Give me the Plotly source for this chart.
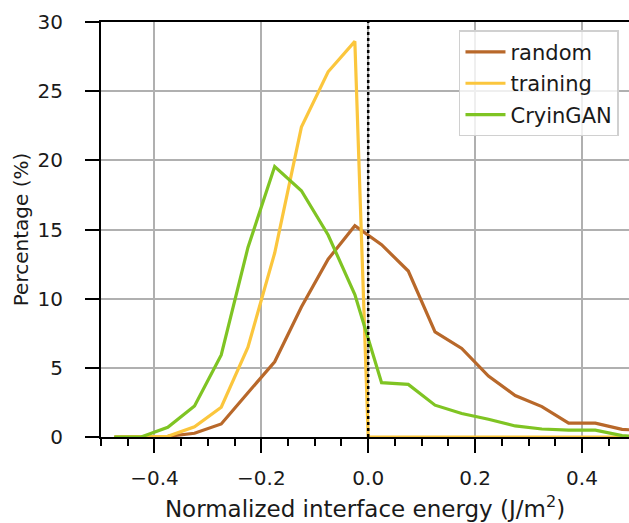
import plotly.graph_objects as go

# bin centres (J/m^2)
energy_bins = [-0.475, -0.425, -0.375, -0.325, -0.275, -0.225, -0.175, -0.125, -0.075, -0.025,
               0.025, 0.075, 0.125, 0.175, 0.225, 0.275, 0.325, 0.375, 0.425, 0.475, 0.525]

random_pct = [0.0, 0.0, 0.05, 0.27, 0.94, 3.2, 5.44, 9.4, 12.85, 15.28,
              13.9, 12.0, 7.6, 6.4, 4.4, 3.0, 2.2, 1.0, 1.0, 0.55, 0.45]

cryingan_pct = [0.0, 0.0, 0.7, 2.24, 5.93, 13.7, 19.55, 17.8, 14.6, 10.3,
                3.93, 3.8, 2.3, 1.7, 1.28, 0.8, 0.58, 0.5, 0.5, 0.1, 0.0]

training_bins = [-0.475, -0.425, -0.375, -0.325, -0.275, -0.225, -0.175, -0.125, -0.075, -0.025,
                 0.0, 0.025, 0.075, 0.125, 0.175, 0.225, 0.275, 0.325, 0.375, 0.425, 0.475, 0.525]
training_pct = [0.0, 0.0, 0.05, 0.74, 2.15, 6.5, 13.3, 22.4, 26.4, 28.6,
                0.0, 0.0, 0.0, 0.0, 0.0, 0.0, 0.0, 0.0, 0.0, 0.0, 0.0, 0.0]

zero_line_x = 0.0
x_ticks = [-0.4, -0.2, 0.0, 0.2, 0.4]
y_ticks = [0, 5, 10, 15, 20, 25, 30]

BROWN = "#b8682a"
YELLOW = "#fbc63d"
GREEN = "#7fc423"
FONT = "DejaVu Sans"
TXT = "#1a1a1a"

fig = go.Figure()
fig.add_trace(go.Scatter(x=energy_bins, y=random_pct, mode="lines", name="random",
                         legendgroup="a", line=dict(color=BROWN, width=3.2)))
fig.add_trace(go.Scatter(x=training_bins, y=training_pct, mode="lines", name="training",
                         legendgroup="b", line=dict(color=YELLOW, width=3.2)))
fig.add_trace(go.Scatter(x=energy_bins, y=cryingan_pct, mode="lines", name="CryinGAN",
                         legendgroup="c", line=dict(color=GREEN, width=3.2)))

fig.add_shape(type="line", xref="x", yref="y", x0=zero_line_x, x1=zero_line_x, y0=0, y1=30,
              line=dict(color="black", width=2.5, dash="dot"), layer="above")

fig.update_layout(
    width=629, height=523,
    margin=dict(l=101, r=0, t=22, b=86),
    paper_bgcolor="white", plot_bgcolor="white",
    font=dict(family=FONT, size=20, color=TXT),
    showlegend=True,
    legend=dict(x=0.678, y=0.98, xanchor="left", yanchor="top",
                bgcolor="rgba(255,255,255,0.8)", bordercolor="#d0d0d0", borderwidth=1.5,
                tracegroupgap=1, itemwidth=40,
                font=dict(family=FONT, size=21, color=TXT)),
)
fig.update_xaxes(
    range=[-0.5, 0.488], tickvals=x_ticks, tickformat=".1f",
    ticks="outside", ticklen=14, tickwidth=2, tickcolor="black",
    ticklabelstandoff=8,
    showline=True, linecolor="black", linewidth=2, mirror=True,
    showgrid=True, gridcolor="#b0b0b0", gridwidth=1.6, zeroline=False,
    minor=dict(dtick=0.05, tick0=0, ticks="outside", ticklen=7, tickwidth=1.5,
               tickcolor="black", showgrid=False),
    title=dict(text="Normalized interface energy (J/m<sup>2</sup>)", font=dict(size=23), standoff=12),
    tickfont=dict(size=20),
)
fig.update_yaxes(
    range=[0, 30], tickvals=y_ticks,
    ticks="outside", ticklen=14, tickwidth=2, tickcolor="black",
    ticklabelstandoff=18,
    showline=True, linecolor="black", linewidth=2,
    showgrid=True, gridcolor="#b0b0b0", gridwidth=1.6, zeroline=False,
    title=dict(text="Percentage (%)", font=dict(size=20), standoff=4),
    tickfont=dict(size=20),
)

fig.write_html("out.html")
